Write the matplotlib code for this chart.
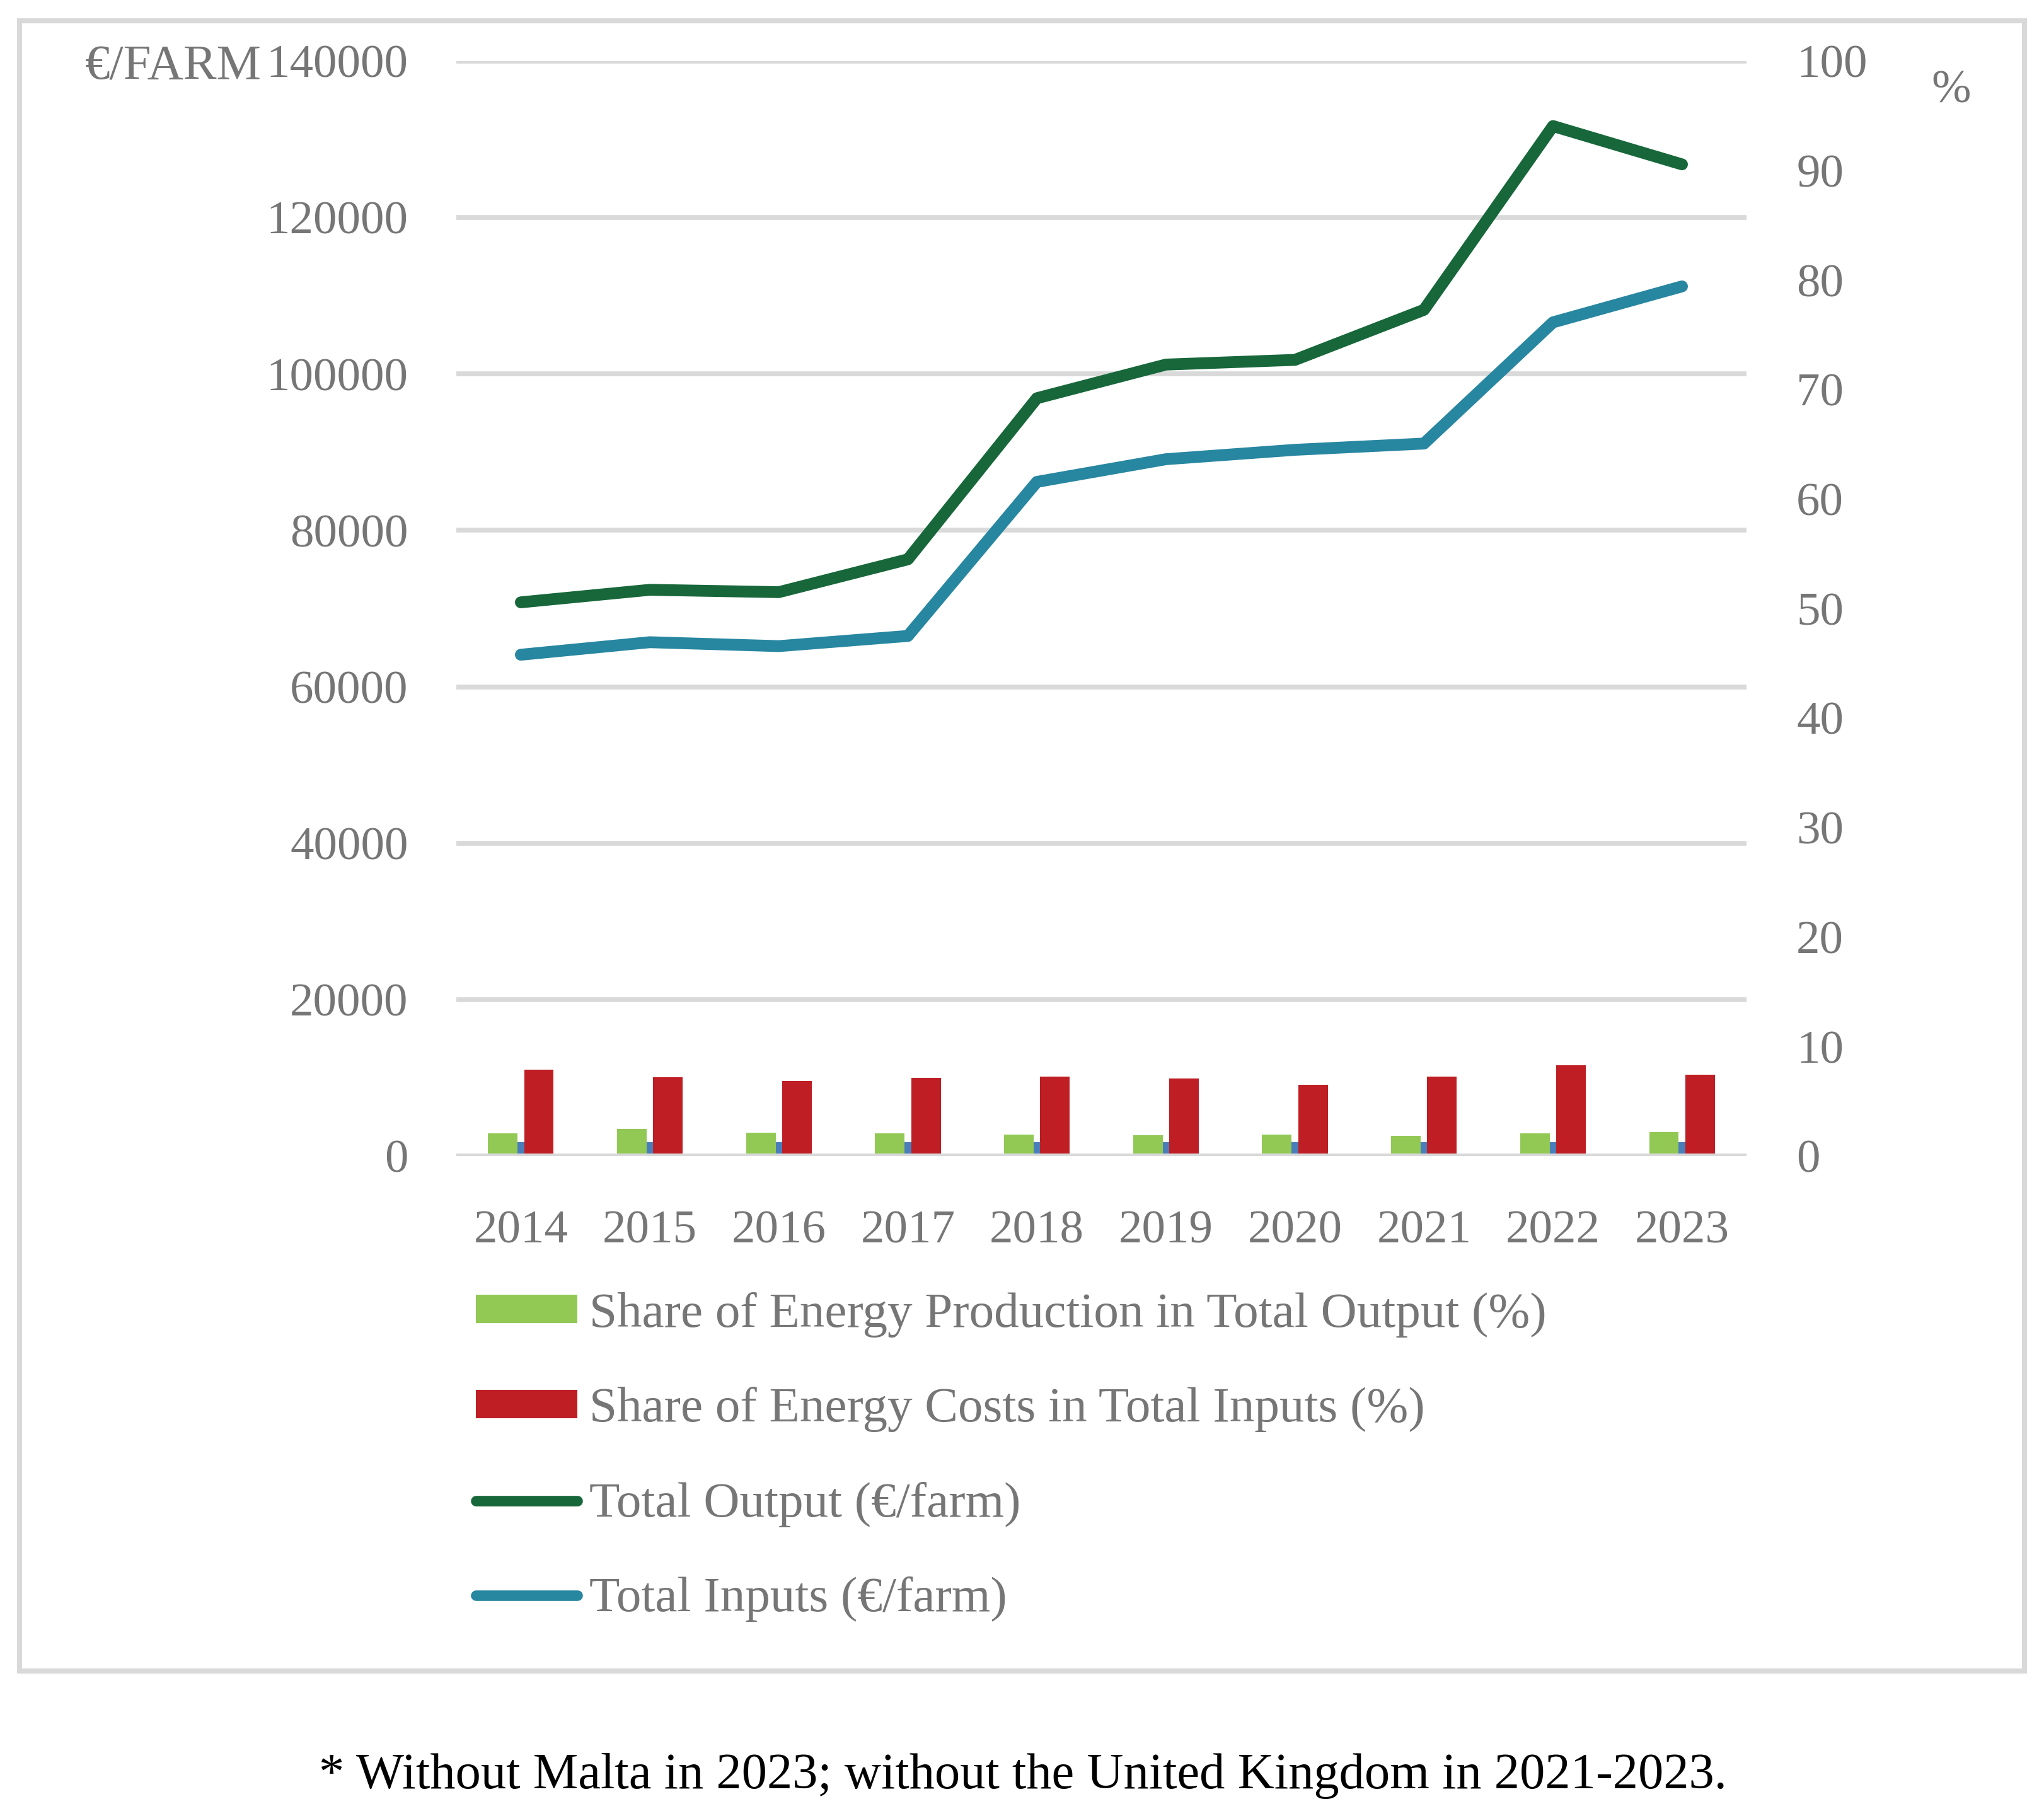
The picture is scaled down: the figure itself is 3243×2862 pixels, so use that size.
import numpy as np
import matplotlib
matplotlib.use("Agg")
import matplotlib.pyplot as plt
from matplotlib.patches import Rectangle, Patch
from matplotlib.lines import Line2D

years = ["2014", "2015", "2016", "2017", "2018", "2019", "2020", "2021", "2022", "2023"]
total_output = [70800, 72400, 72100, 76300, 96900, 101200, 101800, 108200, 131700, 126800]
total_inputs = [64100, 65700, 65200, 66500, 86200, 89100, 90300, 91100, 106600, 111200]
share_energy_prod = [2.07, 2.48, 2.13, 2.07, 1.96, 1.90, 1.96, 1.84, 2.07, 2.19]
share_energy_cost = [7.9, 7.2, 6.85, 7.14, 7.25, 7.08, 6.5, 7.25, 8.29, 7.43]
hidden_series = [1.27, 1.27, 1.27, 1.27, 1.27, 1.27, 1.27, 1.27, 1.27, 1.27]

left_ticks = [0, 20000, 40000, 60000, 80000, 100000, 120000, 140000]
right_ticks = [0, 10, 20, 30, 40, 50, 60, 70, 80, 90, 100]

# —————— style ——————
GRAY_TXT = "#767676"
GRID = "#D9D9D9"
C_PROD = "#92C955"
C_COST = "#BE1E24"
C_HID = "#4A7EBB"
C_OUT = "#17673A"
C_IN = "#2786A0"
FONT = ["Liberation Serif", "DejaVu Serif"]
FS = 54
FS_LEG = 57

plt.rcParams["font.family"] = FONT

W, H = 3243, 2862
fig = plt.figure(figsize=(W / 100, H / 100), dpi=100)

# outer frame
fig.patches.append(Rectangle((31 / W, 1 - 2651 / H), (3212 - 31) / W, (2651 - 33) / H,
                             transform=fig.transFigure, fill=False,
                             edgecolor=GRID, linewidth=5.8))

ax = fig.add_axes([724 / W, 1 - 1834 / H, (2771 - 724) / W, (1834 - 97) / H])
ax2 = ax.twinx()

x = np.arange(len(years))
bw = 0.229

# bars on the % axis
ax2.bar(x - 0.140, share_energy_prod, width=bw, color=C_PROD, zorder=2)
ax2.bar(x - 0.026 + bw / 2, hidden_series, width=bw, color=C_HID, zorder=1)
ax2.bar(x + 0.140, share_energy_cost, width=bw, color=C_COST, zorder=3)
ax2.axhline(0, color=GRID, linewidth=5.5, zorder=4)

# lines on the €/farm axis
ax.plot(x, total_output, color=C_OUT, linewidth=13.5,
        solid_capstyle="round", solid_joinstyle="round", zorder=3)
ax.plot(x, total_inputs, color=C_IN, linewidth=13.5,
        solid_capstyle="round", solid_joinstyle="round", zorder=3)
ax.set_zorder(ax2.get_zorder() + 1)
ax.patch.set_visible(False)

ax.set_xlim(-0.5, len(years) - 0.5)
ax.set_ylim(0, 140000)
ax2.set_ylim(0, 100)

ax.set_yticks(left_ticks)
ax.set_yticklabels([str(t) for t in left_ticks])
ax2.set_yticks(right_ticks)
ax2.set_yticklabels([str(t) for t in right_ticks])
ax.set_xticks(x)
ax.set_xticklabels(years)

for a in (ax, ax2):
    for s in a.spines.values():
        s.set_visible(False)
    a.tick_params(length=0, labelsize=FS, labelcolor=GRAY_TXT)
ax.tick_params(axis="y", pad=55)
ax2.tick_params(axis="y", pad=57)
ax.tick_params(axis="x", pad=62)

ax.yaxis.grid(True, color=GRID, linewidth=5.5)
ax.set_axisbelow(True)

# unit labels
fig.text(135 / W, 1 - 107 / H, "€/FARM", ha="left", va="center",
         fontsize=57, color=GRAY_TXT)
fig.text(3096 / W, 1 - 145 / H, "%", ha="center", va="center",
         fontsize=FS, color=GRAY_TXT)

# legend
handles = [
    Patch(facecolor=C_PROD, label="Share of Energy Production in Total Output (%)"),
    Patch(facecolor=C_COST, label="Share of Energy Costs in Total Inputs (%)"),
    Line2D([], [], color=C_OUT, linewidth=12, solid_capstyle="round",
           label="Total Output (€/farm)"),
    Line2D([], [], color=C_IN, linewidth=12, solid_capstyle="round",
           label="Total Inputs (€/farm)"),
]
leg = fig.legend(handles=handles, loc="upper left",
                 bbox_to_anchor=(755 / W, 1 - 2050 / H),
                 frameon=False, fontsize=FS_LEG, borderpad=0, borderaxespad=0,
                 handlelength=2.03, handleheight=0.5, handletextpad=0.24,
                 labelspacing=0.99)
for t in leg.get_texts():
    t.set_color(GRAY_TXT)

# footnote
fig.text(1623 / W, 1 - 2817 / H,
         "* Without Malta in 2023; without the United Kingdom in 2021-2023.",
         ha="center", va="center", fontsize=58, color="black")

fig.savefig("out.png", dpi=100, facecolor="white")
